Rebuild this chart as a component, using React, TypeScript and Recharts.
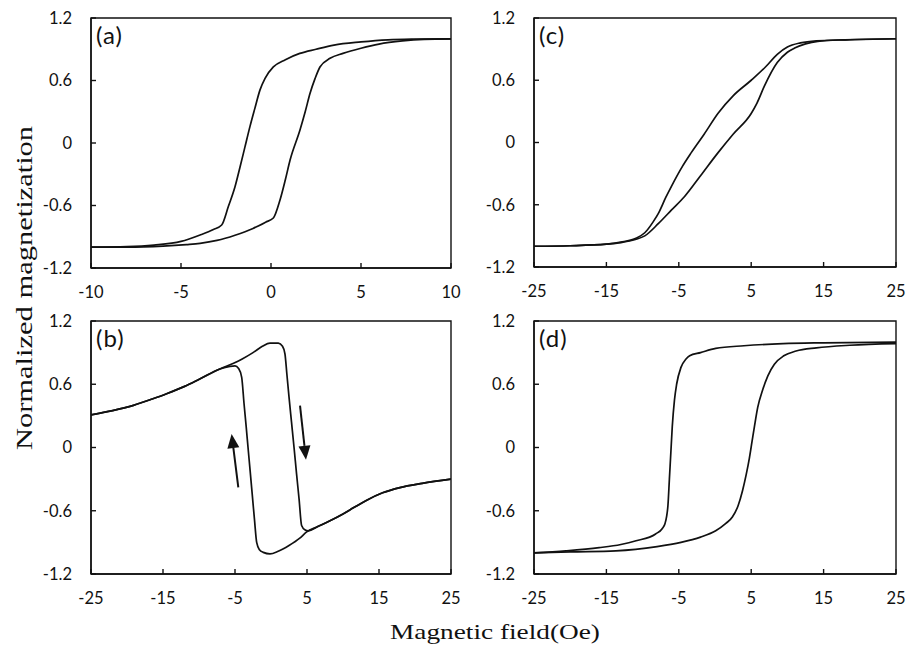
import React from 'react';
import { LineChart, Line, XAxis, YAxis, ReferenceArea, ReferenceLine } from 'recharts';

type Pt = { h: number; m: number };
const pts = (rows: number[][]): Pt[] => rows.map(([h, m]) => ({ h, m }));

const yTicks = [-1.2, -0.6, 0, 0.6, 1.2];
const xTicksA = [-10, -5, 0, 5, 10];
const xTicksWide = [-25, -15, -5, 5, 15, 25];

// (a)
const aDown = pts([
  [-10, -1.0], [-8, -0.995], [-6.5, -0.98], [-5, -0.945], [-3.94, -0.883], [-3.2, -0.83], [-2.74, -0.787],
  [-2.37, -0.61], [-2.0, -0.42], [-1.72, -0.23], [-1.45, -0.04], [-1.17, 0.157], [-0.9, 0.33], [-0.61, 0.51],
  [-0.33, 0.621], [0.13, 0.73], [0.8, 0.8], [1.6, 0.86], [2.5, 0.9], [3.5, 0.94], [5, 0.97], [6.5, 0.99], [8, 0.997], [10, 1.0],
]);
const aUp = pts([
  [-10, -1.0], [-8, -1.0], [-6, -0.99], [-4.7, -0.975], [-3.94, -0.963], [-3, -0.935], [-2, -0.885], [-1, -0.82],
  [-0.3, -0.76], [0.13, -0.72], [0.5, -0.547], [0.8, -0.35], [1.06, -0.163], [1.61, 0.125], [1.9, 0.3], [2.17, 0.477],
  [2.45, 0.62], [2.72, 0.73], [3.28, 0.813], [4, 0.86], [5, 0.91], [6, 0.95], [7.3, 0.98], [8.5, 0.995], [10, 1.0],
]);

// (b)
const bFirst = pts([
  [-25, 0.31], [-22, 0.35], [-19.1, 0.4], [-16.5, 0.46], [-14.5, 0.51], [-12, 0.58], [-9.9, 0.65], [-7.1, 0.745],
  [-5.2, 0.8], [-4, 0.84], [-2.5, 0.9], [-1.2, 0.96], [-0.14, 0.99], [1.02, 0.99], [1.6, 0.96], [1.94, 0.887],
  [2.2, 0.7], [2.5, 0.48], [2.85, 0.24], [3.2, 0.0], [3.55, -0.25], [3.9, -0.49], [4.25, -0.74], [4.7, -0.78],
  [5.18, -0.79], [6.5, -0.75], [8.19, -0.695], [10, -0.63], [11.5, -0.57], [13.3, -0.5], [15.5, -0.43],
  [17.9, -0.38], [21, -0.34], [25, -0.3],
]);
const bSecond = pts([
  [-25, 0.31], [-22, 0.35], [-19.1, 0.4], [-16.5, 0.46], [-14.5, 0.51], [-12, 0.58], [-9.9, 0.65], [-7.1, 0.745],
  [-5.7, 0.77], [-5.0, 0.775], [-4.5, 0.75], [-4.07, 0.666], [-3.75, 0.42], [-3.45, 0.2], [-3.19, 0.0],
  [-2.9, -0.22], [-2.6, -0.45], [-2.3, -0.68], [-1.99, -0.9], [-1.6, -0.97], [-1.07, -0.995], [-0.14, -1.01],
  [1.0, -0.985], [2.5, -0.93], [4.0, -0.86], [4.96, -0.8], [6.5, -0.75], [8.19, -0.695], [10, -0.63],
  [11.5, -0.57], [13.3, -0.5], [15.5, -0.43], [17.9, -0.38], [21, -0.34], [25, -0.3],
]);
const bArrows = [
  { from: { h: -4.54, m: -0.378 }, to: { h: -5.47, m: 0.128 } },
  { from: { h: 4.03, m: 0.397 }, to: { h: 4.86, m: -0.116 } },
];

// (c)
const cDown = pts([
  [-25, -1.0], [-20, -0.995], [-15, -0.98], [-13, -0.96], [-11, -0.925], [-9.7, -0.87], [-8.5, -0.76],
  [-7.8, -0.68], [-6.8, -0.53], [-6, -0.42], [-4.5, -0.23], [-3.3, -0.1], [-1.5, 0.08], [0.4, 0.28],
  [2.5, 0.45], [5, 0.6], [7, 0.73], [8.6, 0.85], [10, 0.92], [11.8, 0.96], [14, 0.98], [18, 0.99], [25, 1.0],
]);
const cUp = pts([
  [-25, -1.0], [-20, -0.995], [-15, -0.98], [-13, -0.965], [-11, -0.935], [-9.7, -0.9], [-7.8, -0.78],
  [-6, -0.65], [-4.2, -0.52], [-2, -0.32], [0.4, -0.1], [2.5, 0.08], [5, 0.28], [5.8, 0.38], [6.8, 0.54],
  [8.6, 0.77], [10, 0.87], [11, 0.91], [12.5, 0.95], [14.2, 0.975], [18, 0.99], [25, 1.0],
]);

// (d)
const dDown = pts([
  [-25, -1.0], [-20.6, -0.98], [-16, -0.95], [-13, -0.92], [-10.9, -0.885], [-8.2, -0.82], [-7.3, -0.77],
  [-6.9, -0.72], [-6.5, -0.55], [-6.3, -0.3], [-6.1, -0.05], [-5.9, 0.2], [-5.6, 0.45], [-5.3, 0.6],
  [-4.7, 0.76], [-4.0, 0.84], [-3.5, 0.87], [-2, 0.9], [0.1, 0.94], [4, 0.965], [9.4, 0.985], [15, 0.993], [25, 1.0],
]);
const dUp = pts([
  [-25, -1.0], [-20, -0.99], [-13.7, -0.98], [-8, -0.94], [-4.7, -0.9], [-2, -0.85], [0.1, -0.79],
  [1.5, -0.72], [2.4, -0.66], [3.2, -0.55], [3.8, -0.41], [4.3, -0.26], [4.75, -0.1], [5.1, 0.05],
  [5.45, 0.2], [5.9, 0.38], [6.6, 0.55], [7.3, 0.68], [8.2, 0.79], [9.5, 0.87], [11.2, 0.915], [14, 0.945],
  [18.6, 0.97], [25, 0.985],
]);

const tickFont = { fontFamily: 'Lato, sans-serif', fontSize: 16.5, fill: '#111' };

type Arrow = { from: Pt; to: Pt };

const ArrowShape = (p: any) => {
  const { x1, y1, x2, y2 } = p;
  const ang = Math.atan2(y2 - y1, x2 - x1);
  const len = 14;
  const w = 6;
  const bx = x2 - len * Math.cos(ang);
  const by = y2 - len * Math.sin(ang);
  const nx = -Math.sin(ang) * w;
  const ny = Math.cos(ang) * w;
  return (
    <g>
      <line x1={x1} y1={y1} x2={bx} y2={by} stroke="#111" strokeWidth={2} />
      <polygon points={`${x2},${y2} ${bx + nx},${by + ny} ${bx - nx},${by - ny}`} fill="#111" />
    </g>
  );
};

function Panel({
  left, top, width, height, xDomain, xTicks, series, label, arrows = [],
}: {
  left: number; top: number; width: number; height: number;
  xDomain: [number, number]; xTicks: number[]; series: Pt[][]; label: string; arrows?: Arrow[];
}) {
  // left/top/width/height describe the plot box
  return (
    <div style={{ position: 'absolute', left: left - 70, top: top - 10 }}>
      <LineChart width={width + 80} height={height + 50} margin={{ top: 10, right: 10, bottom: 10, left: 10 }}>
        <XAxis
          dataKey="h" type="number" domain={xDomain} ticks={xTicks} allowDataOverflow
          axisLine={{ stroke: '#111', strokeWidth: 1.4 }} tickLine={{ stroke: '#111', strokeWidth: 1.4 }}
          tickSize={-5} tickMargin={23} height={30} tick={tickFont} interval={0}
        />
        <YAxis
          dataKey="m" type="number" domain={[-1.2, 1.2]} ticks={yTicks} allowDataOverflow
          axisLine={{ stroke: '#111', strokeWidth: 1.4 }} tickLine={{ stroke: '#111', strokeWidth: 1.4 }}
          tickSize={-5} tickMargin={24} width={60} tick={tickFont} interval={0}
          tickFormatter={(v: number) => String(v)}
        />
        <ReferenceArea x1={xDomain[0]} x2={xDomain[1]} y1={-1.2} y2={1.2} fill="none" stroke="#111" strokeWidth={1.4} fillOpacity={0} />
        {series.map((s, i) => (
          <Line key={i} data={s} dataKey="m" type="monotone" stroke="#111" strokeWidth={1.7} dot={false} isAnimationActive={false} />
        ))}
        {arrows.map((a, i) => (
          <ReferenceLine
            key={`ar${i}`}
            segment={[{ x: a.from.h, y: a.from.m }, { x: a.to.h, y: a.to.m }]}
            shape={ArrowShape}
          />
        ))}
      </LineChart>
      <div
        style={{
          position: 'absolute', left: 75, top: 12, fontFamily: 'Lato, sans-serif', fontSize: 24,
          letterSpacing: 1, color: '#111',
        }}
      >
        {label}
      </div>
    </div>
  );
}

export default function App() {
  return (
    <div style={{ position: 'absolute', left: 0, top: 0, width: 907, height: 649, background: '#fff', overflow: 'hidden' }}>
      <Panel left={91} top={18} width={360} height={250} xDomain={[-10, 10]} xTicks={xTicksA} series={[aDown, aUp]} label="(a)" />
      <Panel left={534} top={18} width={362} height={249} xDomain={[-25, 25]} xTicks={xTicksWide} series={[cDown, cUp]} label="(c)" />
      <Panel left={91} top={321} width={360} height={253} xDomain={[-25, 25]} xTicks={xTicksWide} series={[bFirst, bSecond]} label="(b)" arrows={bArrows} />
      <Panel left={534} top={321} width={362} height={253} xDomain={[-25, 25]} xTicks={xTicksWide} series={[dDown, dUp]} label="(d)" />
      <div
        style={{
          position: 'absolute', left: 24, top: 288, transform: 'translate(-50%, -50%) rotate(-90deg) scaleX(1.27)',
          fontFamily: '"Liberation Serif", serif', fontSize: 24, whiteSpace: 'nowrap', color: '#111',
        }}
      >
        Normalized magnetization
      </div>
      <div
        style={{
          position: 'absolute', left: 495, top: 632, transform: 'translate(-50%, -50%) scaleX(1.24)',
          fontFamily: '"Liberation Serif", serif', fontSize: 22, whiteSpace: 'nowrap', color: '#111',
        }}
      >
        Magnetic field(Oe)
      </div>
    </div>
  );
}
